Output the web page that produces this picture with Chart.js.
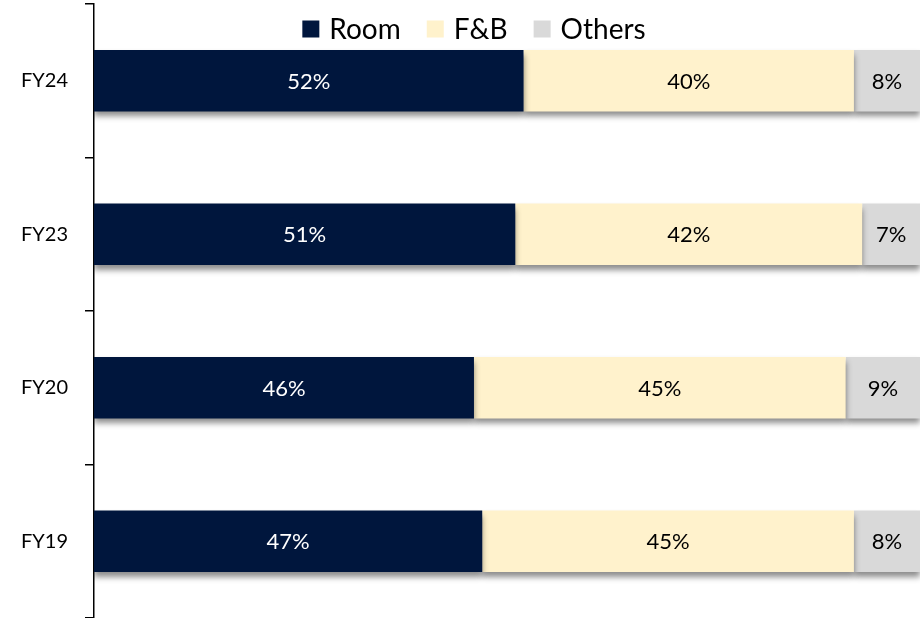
<!DOCTYPE html>
<html>
<head>
<meta charset="utf-8">
<script src="https://cdn.jsdelivr.net/npm/chart.js@4/dist/chart.umd.min.js"></script>
<style>
  html, body { margin: 0; padding: 0; background: #fff; }
  #wrap { width: 920px; height: 618px; position: relative; }
</style>
</head>
<body>
<div id="wrap"><canvas id="chart"></canvas></div>
<script>
const years = ['FY24', 'FY23', 'FY20', 'FY19'];
const room = [52, 51, 46, 47];
const fnb = [40, 42, 45, 45];
const others = [8, 7, 9, 8];

const FONT = 'Lato, "Liberation Sans", sans-serif';

// shadow under the bars
const barShadow = {
  id: 'barShadow',
  beforeDatasetDraw(chart) {
    const ctx = chart.ctx;
    ctx.save();
    ctx.shadowColor = 'rgba(0,0,0,0.45)';
    ctx.shadowBlur = 6;
    ctx.shadowOffsetX = 0;
    ctx.shadowOffsetY = 5;
  },
  afterDatasetDraw(chart) {
    chart.ctx.restore();
  }
};

// values in the middle of each segment
const segLabels = {
  id: 'segLabels',
  afterDatasetsDraw(chart) {
    const ctx = chart.ctx;
    ctx.save();
    ctx.font = '22px ' + FONT;
    ctx.textAlign = 'center';
    ctx.textBaseline = 'middle';
    chart.data.datasets.forEach((ds, i) => {
      chart.getDatasetMeta(i).data.forEach((bar, j) => {
        ctx.fillStyle = ds.labelColor;
        ctx.fillText(ds.data[j] + '%', (bar.x + bar.base) / 2, bar.y + 1);
      });
    });
    ctx.restore();
  }
};

// legend drawn over the plot, above the first bar
const topLegend = {
  id: 'topLegend',
  afterDraw(chart) {
    const ctx = chart.ctx;
    ctx.save();
    ctx.font = '28px ' + FONT;
    ctx.textBaseline = 'middle';
    const box = 17, gapText = 10, gapItem = 26;
    const items = chart.data.datasets;
    let total = 0;
    items.forEach((ds, i) => {
      total += box + gapText + ctx.measureText(ds.label).width;
      if (i < items.length - 1) total += gapItem;
    });
    let x = 474 - total / 2;
    const y = 29;
    items.forEach(ds => {
      ctx.fillStyle = ds.backgroundColor;
      ctx.fillRect(x, y - box / 2, box, box);
      x += box + gapText;
      ctx.fillStyle = '#000';
      ctx.fillText(ds.label, x, y + 1);
      x += ctx.measureText(ds.label).width + gapItem;
    });
    ctx.restore();
  }
};

new Chart(document.getElementById('chart'), {
  type: 'bar',
  data: {
    labels: years,
    datasets: [
      { label: 'Room', data: room, backgroundColor: '#00163D', labelColor: '#ffffff' },
      { label: 'F&B', data: fnb, backgroundColor: '#FFF2CC', labelColor: '#000000' },
      { label: 'Others', data: others, backgroundColor: '#D9D9D9', labelColor: '#000000' }
    ]
  },
  options: {
    indexAxis: 'y',
    responsive: true,
    maintainAspectRatio: false,
    animation: false,
    layout: { padding: { top: 4, right: 0, bottom: 0, left: 0 } },
    datasets: {
      bar: { categoryPercentage: 0.8, barPercentage: 0.5, borderWidth: 0 }
    },
    plugins: {
      legend: { display: false },
      tooltip: { enabled: false }
    },
    scales: {
      x: { stacked: true, display: false, min: 0, max: 100 },
      y: {
        stacked: true,
        afterFit(scale) {
          scale.width = 94;
          scale.paddingTop = 0;
          scale.paddingBottom = 0;
        },
        border: { display: true, color: '#000', width: 1.5 },
        grid: { drawOnChartArea: false, tickLength: 9, color: '#000', lineWidth: 1.5 },
        ticks: { color: '#000', padding: 17, font: { family: FONT, size: 20 } }
      }
    }
  },
  plugins: [barShadow, segLabels, topLegend]
});
</script>
</body>
</html>
